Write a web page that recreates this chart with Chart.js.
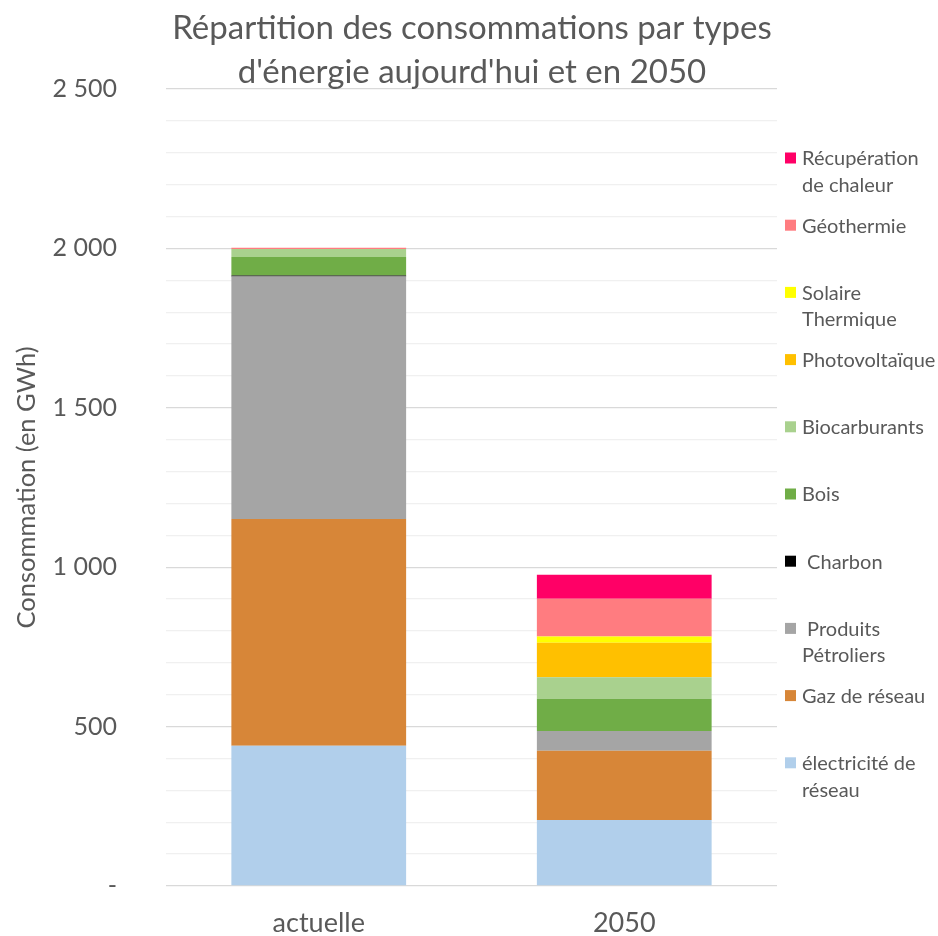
<!DOCTYPE html>
<html lang="fr">
<head>
<meta charset="utf-8">
<title>Répartition des consommations</title>
<script src="https://cdn.jsdelivr.net/npm/chart.js@4.4.0/dist/chart.umd.min.js"></script>
<style>
  html, body { margin: 0; padding: 0; background: #ffffff; }
  #chart { display: block; }
</style>
</head>
<body>
<canvas id="chart" width="938" height="936"></canvas>
<script>
// Consommation en GWh, par type d'énergie
const categories = ['actuelle', '2050'];
const electricite = [440, 207];
const gazReseau = [711, 217];
const produitsPetroliers = [761, 62];
const charbon = [3, 0];
const bois = [58, 101];
const biocarburants = [25, 68];
const photovoltaique = [0, 108];
const solaireThermique = [0, 20];
const geothermie = [4, 118];
const recuperationChaleur = [0, 75];

const titleLines = ['Répartition des consommations par types', "d'énergie aujourd'hui et en 2050"];
const textColor = '#595959';
const fontFamily = 'Lato, "Open Sans", sans-serif';

// séries empilées du bas vers le haut (libellés de légende avec retours à la ligne)
const series = [
    { label: 'électricité de\nréseau', data: electricite, color: '#b1cfeb' },
    { label: 'Gaz de réseau', data: gazReseau, color: '#d78638' },
    { label: ' Produits\nPétroliers', data: produitsPetroliers, color: '#a5a5a5' },
    { label: ' Charbon', data: charbon, color: '#000000' },
    { label: 'Bois', data: bois, color: '#70ad47' },
    { label: 'Biocarburants', data: biocarburants, color: '#a9d18e' },
    { label: 'Photovoltaïque', data: photovoltaique, color: '#ffc000' },
    { label: 'Solaire\nThermique', data: solaireThermique, color: '#ffff00' },
    { label: 'Géothermie', data: geothermie, color: '#ff7c80' },
    { label: 'Récupération\nde chaleur', data: recuperationChaleur, color: '#ff0066' },
];

function formatGWh(v) {
    if (v === 0) return '-';
    return String(v).replace(/\B(?=(\d{3})+(?!\d))/g, ' ');
}

// titre sur deux lignes + légende verticale à droite
const decorations = {
    id: 'decorations',
    afterDraw(chart) {
        const ctx = chart.ctx;
        ctx.save();
        ctx.fillStyle = textColor;
        ctx.textBaseline = 'middle';

        ctx.font = '33px ' + fontFamily;
        ctx.textAlign = 'center';
        titleLines.forEach((line, i) => ctx.fillText(line, 472, 28 + i * 44));

        ctx.font = '20px ' + fontFamily;
        ctx.textAlign = 'left';
        const items = chart.data.datasets.slice().reverse();
        items.forEach((ds, i) => {
            const y = 158 + i * 67.2;
            ctx.fillStyle = ds.backgroundColor;
            ctx.fillRect(785, y - 5.5, 11, 11);
            ctx.fillStyle = textColor;
            ds.label.split('\n').forEach((line, j) => {
                ctx.fillText(line, 802, y + 1 + j * 26.5);
            });
        });
        ctx.restore();
    }
};

new Chart(document.getElementById('chart'), {
    type: 'bar',
    data: {
        labels: categories,
        datasets: series.map(s => ({
            label: s.label,
            data: s.data,
            backgroundColor: s.color,
            borderWidth: 0,
            barPercentage: 0.572,
            categoryPercentage: 1.0,
        })),
    },
    options: {
        responsive: false,
        animation: false,
        devicePixelRatio: 1,
        layout: {
            padding: { top: 89, right: 161, bottom: 0, left: 0 },
        },
        plugins: {
            legend: { display: false },
            title: { display: false },
            tooltip: { enabled: false },
        },
        scales: {
            x: {
                stacked: true,
                grid: { display: false },
                border: { display: false },
                ticks: {
                    color: textColor,
                    padding: 13,
                    font: { family: fontFamily, size: 27 },
                },
                afterFit(scale) { scale.height = 50; },
            },
            y: {
                stacked: true,
                min: 0,
                max: 2500,
                border: { display: false },
                grid: {
                    drawTicks: false,
                    color: ctx => (ctx.tick.value % 500 === 0 ? '#d9d9d9' : '#f0f0f0'),
                    lineWidth: 1.3,
                },
                ticks: {
                    stepSize: 100,
                    autoSkip: false,
                    padding: 49,
                    color: textColor,
                    font: { family: fontFamily, size: 25 },
                    callback: v => (v % 500 === 0 ? formatGWh(v) : ''),
                },
                title: {
                    display: true,
                    text: 'Consommation (en GWh)',
                    color: textColor,
                    font: { family: fontFamily, size: 25.5 },
                    padding: { top: 11, bottom: 0 },
                },
                afterFit(scale) {
                    scale.width = 166;
                    // pas de marge supplémentaire pour les libellés extrêmes
                    scale.paddingTop = 0;
                    scale.paddingBottom = 0;
                },
            },
        },
    },
    plugins: [decorations],
});
</script>
</body>
</html>
